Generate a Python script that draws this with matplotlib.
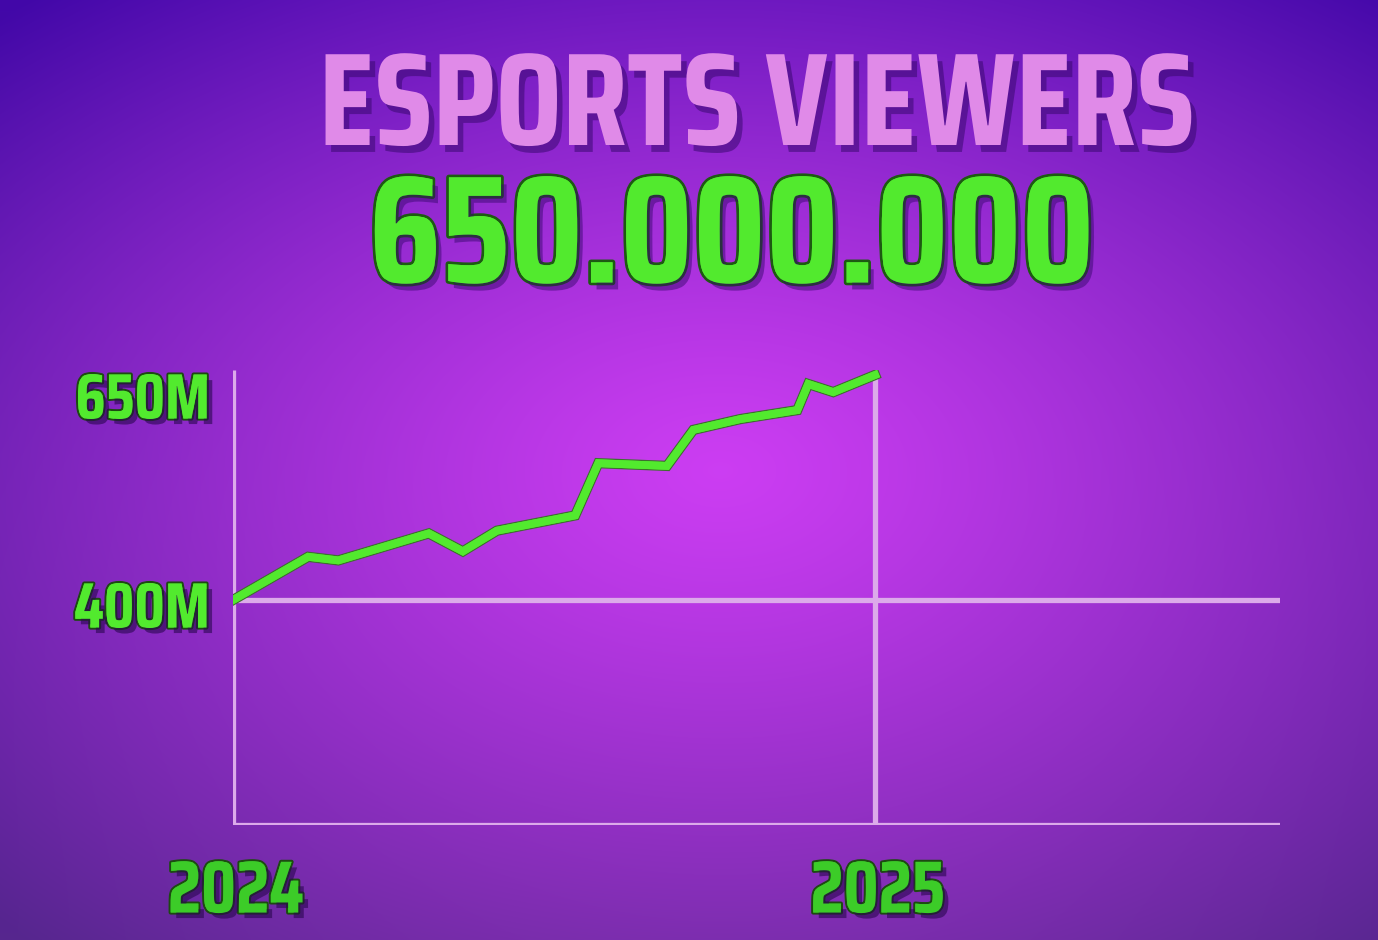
import numpy as np
import matplotlib
matplotlib.use("Agg")
import matplotlib.pyplot as plt
import matplotlib.patheffects as pe
from matplotlib.transforms import ScaledTranslation

# ---- data ----
title = "ESPORTS VIEWERS"
headline = "650.000.000"
x_years = [2024.000, 2024.117, 2024.164, 2024.305, 2024.358, 2024.411, 2024.533,
           2024.569, 2024.676, 2024.717, 2024.790, 2024.879, 2024.896, 2024.935, 2025.000]
viewers_m = [400, 448, 444, 474, 454, 477, 494, 552, 549, 589, 601, 611, 640, 631, 650]
y_tick_values = [400, 650]
y_tick_labels = ["400M", "650M"]
x_tick_values = [2024, 2025]
x_tick_labels = ["2024", "2025"]

W, H = 1378, 940
fig = plt.figure(figsize=(W / 100, H / 100), dpi=100)

# ---- background gradient ----
bg = fig.add_axes([0, 0, 1, 1])
bg.set_axis_off()
yy, xx = np.mgrid[0:H, 0:W]
cx, cy = 720, 470
r = np.sqrt(((xx - cx) / 1000.0) ** 2 + ((yy - cy) / 650.0) ** 2)
t = np.clip(r, 0, 1) ** 1.2
center = np.array([0.80, 0.24, 0.95])
top_edge = np.array([0.26, 0.03, 0.66])
bot_edge = np.array([0.34, 0.15, 0.56])
fy = (yy / H)[..., None]
edge = top_edge * (1 - fy) + bot_edge * fy
img = center * (1 - t[..., None]) + edge * t[..., None]
img = np.clip(img, 0, 1)
bg.imshow(img, extent=[0, W, H, 0], aspect="auto", interpolation="bilinear")
bg.set_xlim(0, W)
bg.set_ylim(H, 0)

font = ["Saira Condensed", "Roboto Condensed", "DejaVu Sans"]
pink = "#e08ae8"
green = "#52ea2e"
green_dark = "#3ccc28"
axis_col = "#dcaaea"

shadow = [pe.SimplePatchShadow(offset=(4, -5), shadow_rgbFace="#3a0870", alpha=0.55), pe.Normal()]

fig.text(757 / W, 1 - 96 / H, title, ha="center", va="center_baseline", fontsize=95,
         fontweight="bold", family=font, color=pink, path_effects=shadow)
fig.text(732 / W, 1 - 226 / H, headline, ha="center", va="center_baseline", fontsize=110,
         fontweight="bold", family=font, color=green,
         path_effects=[pe.withStroke(linewidth=4, foreground="#1d5a12"),
                       pe.SimplePatchShadow(offset=(4, -5), shadow_rgbFace="#3a0870", alpha=0.5),
                       pe.Normal()])

# ---- chart axes ----
left, right, bottom, top = 233, 1280, 825, 370
ax = fig.add_axes([left / W, 1 - bottom / H, (right - left) / W, (bottom - top) / H])
ax.patch.set_alpha(0)
x0 = 2024
px_per_year = 642.0
ax.set_xlim(x0, x0 + (right - left) / px_per_year)
v_per_px = 250 / 225.0
ax.set_ylim(400 - (bottom - 600) * v_per_px, 400 + (600 - top) * v_per_px)
for s in ax.spines.values():
    s.set_visible(False)
ax.set_xticks([])
ax.set_yticks([])

lw_axis = 3.8
ax.axvline(x_tick_values[0], color=axis_col, lw=lw_axis, solid_capstyle="butt")
ax.axhline(ax.get_ylim()[0], color=axis_col, lw=lw_axis)
ax.axhline(y_tick_values[0], color=axis_col, lw=lw_axis)
ax.plot([x_tick_values[1], x_tick_values[1]], [ax.get_ylim()[0], viewers_m[-1]],
        color=axis_col, lw=lw_axis)

ax.plot(x_years, viewers_m, color=green, lw=5.6, solid_joinstyle="miter",
        path_effects=[pe.withStroke(linewidth=7.4, foreground="#3f6e30"), pe.Normal()])

# tick labels
lbl_fx = [pe.withStroke(linewidth=3, foreground="#1d4a12"),
          pe.SimplePatchShadow(offset=(4, -4), shadow_rgbFace="#2a0650", alpha=0.6), pe.Normal()]
offsets = {400: -4, 650: -20}
for v, lab in zip(y_tick_values, y_tick_labels):
    tr = ax.transData + ScaledTranslation(-23 / 100, offsets[v] / 100, fig.dpi_scale_trans)
    ax.text(x0, v, lab, transform=tr, ha="right", va="center_baseline", fontsize=46,
            fontweight="bold", family=font, color=green, path_effects=lbl_fx)
for v, lab in zip(x_tick_values, x_tick_labels):
    tr = ax.transData + ScaledTranslation(3 / 100, -60 / 100, fig.dpi_scale_trans)
    ax.text(v, ax.get_ylim()[0], lab, transform=tr, ha="center", va="center_baseline", fontsize=53,
            fontweight="bold", family=font, color=green_dark, path_effects=lbl_fx)

fig.savefig("out.png", dpi=100)
